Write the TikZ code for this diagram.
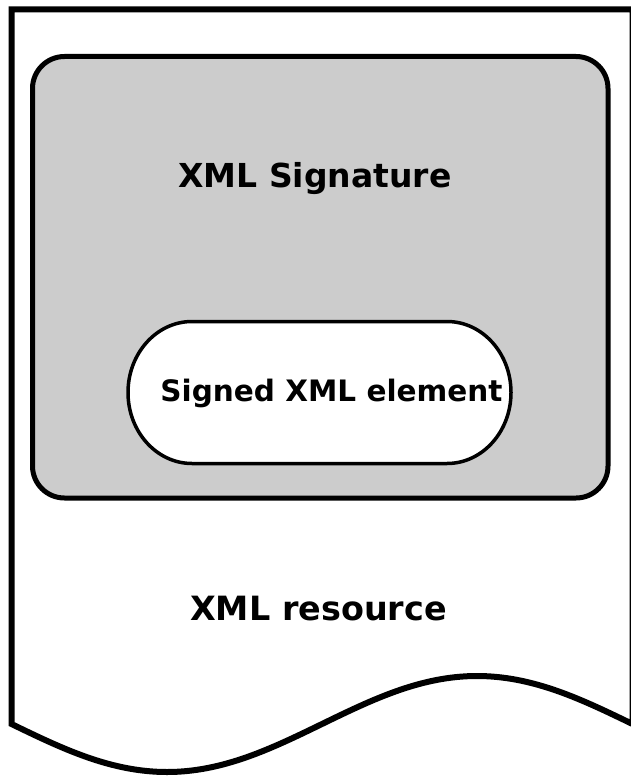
\documentclass[tikz,border=0pt]{standalone}
\usepackage{fontspec}
\setmainfont{DejaVu Sans}
\begin{document}
\begin{tikzpicture}[x=1pt,y=-1pt,
  doc/.style={line width=6pt,draw=black,fill=white,line join=miter},
  sigbox/.style={line width=5pt,draw=black,fill=sigfill,rounded corners=32pt},
  elembox/.style={line width=3.5pt,draw=black,fill=white},
  lbl/.style={inner sep=0pt,anchor=base,text=black,font=\bfseries}]
\definecolor{sigfill}{HTML}{CCCCCC}
\useasboundingbox (0,0) rectangle (631,776);
% document shape
\draw[doc] (632.5,724) -- (632.5,9.5) -- (11.5,9.5) -- (11.5,724)
  sin (167,772) cos (322,724) sin (477,676) cos (632.5,724);
% XML Signature box
\draw[sigbox] (32.5,56.5) rectangle (608,498);
% Signed XML element
\draw[elembox] (192,321.5) -- (447,321.5)
  arc[start angle=-90,end angle=90,x radius=64,y radius=71]
  -- (192,463.5)
  arc[start angle=90,end angle=270,x radius=64,y radius=71] -- cycle;
\node[lbl,font=\bfseries\fontsize{33}{40}\selectfont] (sig) at (315,187) {XML Signature};
\node[lbl,font=\bfseries\fontsize{29.5}{36}\selectfont] (elem) at (331.5,401) {Signed XML element};
\node[lbl,font=\bfseries\fontsize{33.4}{40}\selectfont] (res) at (318.5,620) {XML resource};
\end{tikzpicture}
\end{document}
